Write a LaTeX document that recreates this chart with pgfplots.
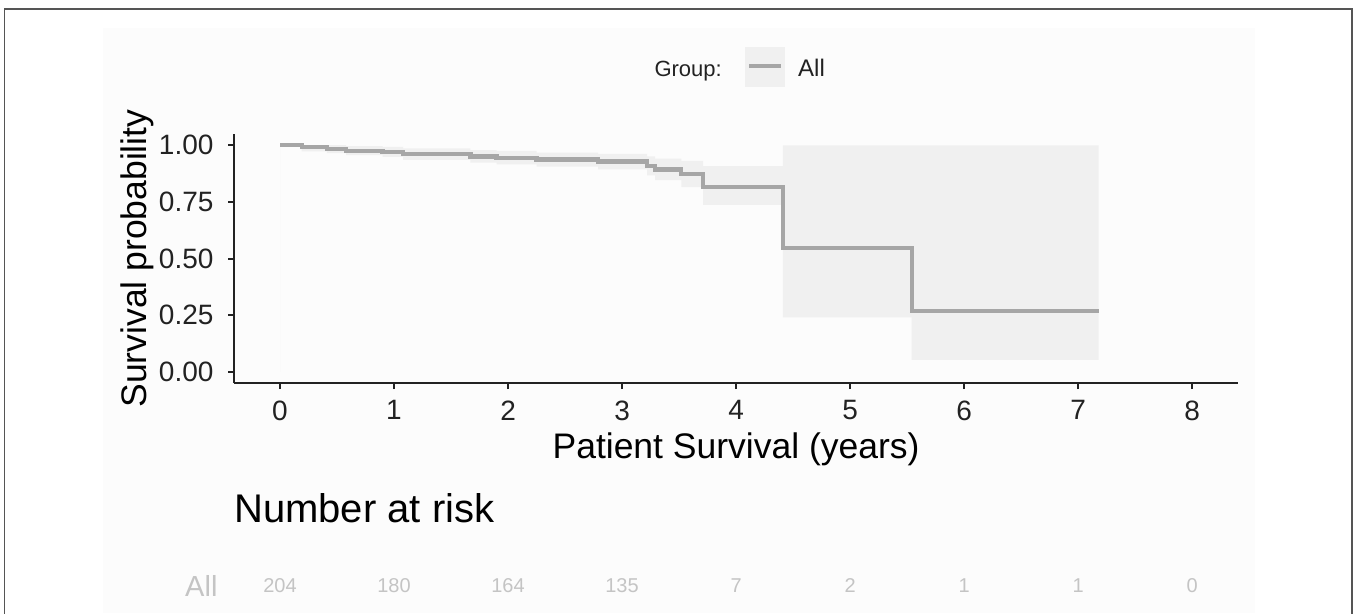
\documentclass[border=0pt]{standalone}
\usepackage{pgfplots}
\pgfplotsset{compat=1.18}
\usepackage{fontspec}
\setmainfont{Liberation Sans}
\definecolor{panelbg}{HTML}{FCFCFC}
\definecolor{cifill}{HTML}{F0F0F0}
\definecolor{curvegray}{HTML}{A6A6A6}
\definecolor{riskgray}{HTML}{C4C4C4}
\definecolor{axisdark}{HTML}{222222}
\definecolor{bordergray}{HTML}{555555}
\begin{document}
\begin{tikzpicture}
\useasboundingbox (0pt,0pt) rectangle (1357pt,-613pt);
% outer frame and panel
\fill[panelbg] (103pt,-28pt) rectangle (1255pt,-613pt);
\draw[bordergray, line width=1.6pt] (4.5pt,-700pt) -- (4.5pt,-9pt) -- (1352pt,-9pt) -- (1352pt,-700pt);

\begin{axis}[
  at={(234pt,-383pt)}, anchor=south west,
  scale only axis, width=1004pt, height=249pt,
  xmin=-0.4035, xmax=8.4035, ymin=-0.0485, ymax=1.0485,
  axis x line*=bottom, axis y line*=left,
  axis line style={axisdark, line width=2pt, -},
  tick align=outside, major tick length=6pt,
  tick style={axisdark, line width=2pt},
  xtick={0,1,2,3,4,5,6,7,8},
  ytick={0,0.25,0.5,0.75,1},
  /pgf/number format/assume math mode=true,
  ticklabel style={font=\fontsize{28}{28}\selectfont, text=axisdark},
  xticklabel style={yshift=-8pt},
  yticklabel style={xshift=-11pt, /pgf/number format/.cd, fixed, fixed zerofill, precision=2},
  xlabel={Patient Survival (years)},
  ylabel={Survival probability},
  label style={font=\fontsize{35.5}{35.5}\selectfont},
  xlabel style={at={(axis description cs:0.5,0)}, anchor=base, yshift=-75pt, inner sep=0pt},
  ylabel style={at={(axis description cs:-0.0876,0.5)}, anchor=base, inner sep=0pt},
  clip=false,
]
% 95% confidence band (step polygon: upper limits forward, lower limits back)
\addplot[fill=cifill, draw=none] coordinates {
(0,1) (0.58,1) (0.58,0.995) (0.90,0.995) (0.90,0.992) (1.08,0.992) (1.08,0.985)
(1.67,0.985) (1.67,0.978) (1.90,0.978) (1.90,0.974) (2.25,0.974) (2.25,0.967)
(2.79,0.967) (2.79,0.961) (3.22,0.961) (3.22,0.950) (3.29,0.950) (3.29,0.940)
(3.52,0.940) (3.52,0.930) (3.71,0.930) (3.71,0.907) (4.41,0.907) (4.41,0.998)
(7.18,0.998)
(7.18,0.053) (5.54,0.053) (5.54,0.241) (4.41,0.241) (4.41,0.736) (3.71,0.736)
(3.71,0.815) (3.52,0.815) (3.52,0.845) (3.29,0.845) (3.29,0.866) (3.22,0.866)
(3.22,0.893) (2.79,0.893) (2.79,0.905) (2.25,0.905) (2.25,0.915) (1.90,0.915)
(1.90,0.922) (1.67,0.922) (1.67,0.935) (1.08,0.935) (1.08,0.948) (0.90,0.948)
(0.90,0.955) (0.58,0.955) (0.58,0.964) (0.41,0.964) (0.41,0.972) (0.19,0.972)
(0.19,1) (0,1)} \closedcycle;
\addplot[const plot, curvegray, line width=4.3pt] coordinates {
(0,1.000) (0.19,0.990) (0.41,0.983) (0.58,0.975) (0.90,0.970) (1.08,0.960)
(1.67,0.950) (1.90,0.944) (2.25,0.936) (2.79,0.927) (3.22,0.908) (3.29,0.892)
(3.52,0.873) (3.71,0.816) (4.41,0.545) (5.54,0.269) (7.18,0.269)};
\end{axis}

% legend
\node[anchor=base east, inner sep=0pt, font=\fontsize{22}{22}\selectfont, text=axisdark] at (722pt,-76pt) {Group:};
\fill[cifill] (745pt,-47pt) rectangle (785pt,-87pt);
\draw[curvegray, line width=4pt] (749pt,-66pt) -- (781pt,-66pt);
\node[anchor=base west, inner sep=0pt, font=\fontsize{24}{24}\selectfont, text=axisdark] at (798pt,-76pt) {All};

% risk table
\begin{axis}[
  at={(234pt,-606pt)}, anchor=south west,
  scale only axis, width=1004pt, height=40pt,
  xmin=-0.4035, xmax=8.4035, ymin=0, ymax=1,
  axis line style={draw=none},
  xtick=\empty, ytick={0.5}, yticklabels={All},
  major tick length=0pt,
  yticklabel style={font=\fontsize{29}{29}\selectfont, text=riskgray, xshift=-13pt},
  title={Number at risk},
  title style={at={(axis description cs:0,1)}, anchor=base west, yshift=38pt, inner sep=0pt, font=\fontsize{40}{40}\selectfont, text=black},
  clip=false,
]
\addplot[only marks, mark=none, point meta=explicit symbolic,
  nodes near coords,
  nodes near coords style={anchor=center, font=\fontsize{20}{20}\selectfont, text=riskgray}]
  table[meta=n] {
x y n
0 0.5 204
1 0.5 180
2 0.5 164
3 0.5 135
4 0.5 7
5 0.5 2
6 0.5 1
7 0.5 1
8 0.5 0
};
\end{axis}
\end{tikzpicture}
\end{document}
